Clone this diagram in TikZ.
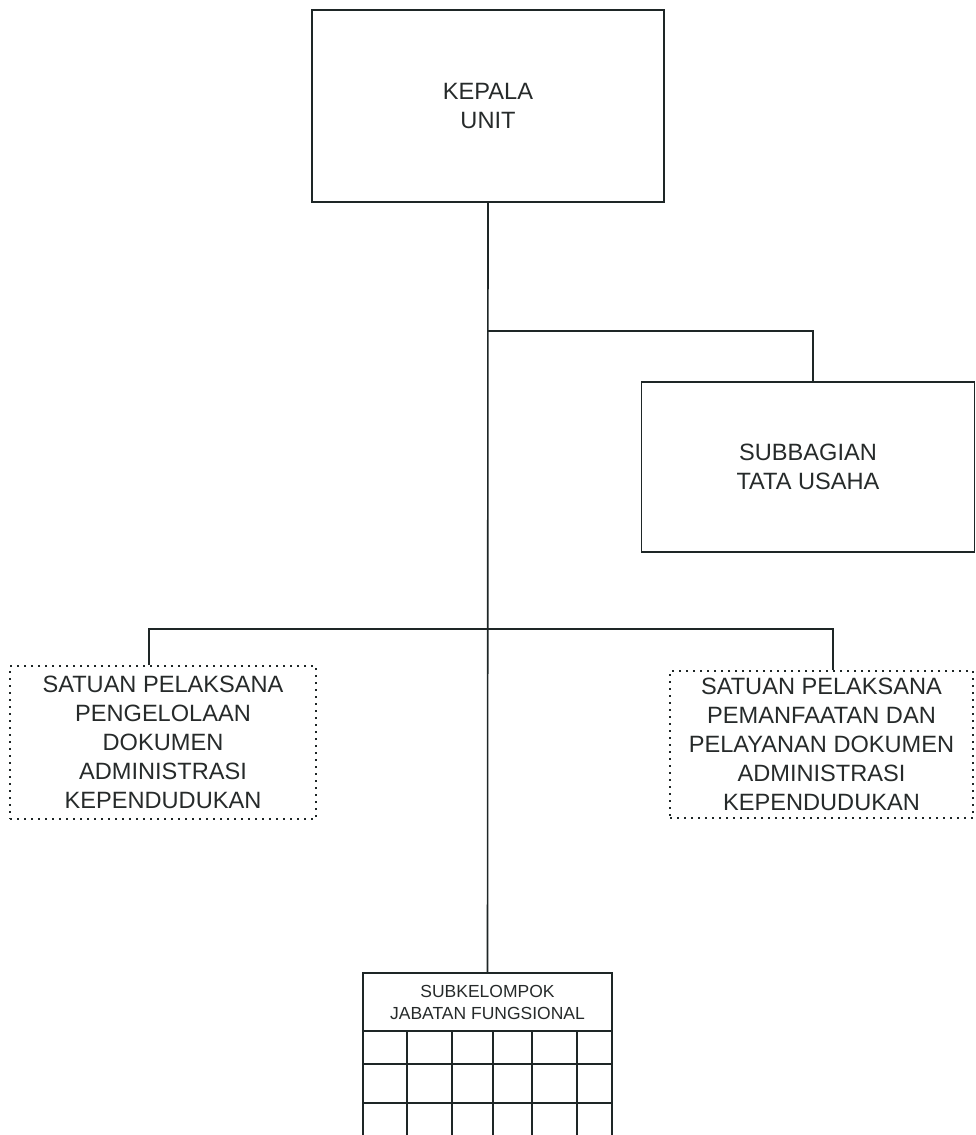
\documentclass[tikz,border=0pt]{standalone}
\usepackage{fontspec}
\setmainfont{Liberation Sans}
\usepackage{tikz}
\usetikzlibrary{positioning}
\definecolor{ink}{HTML}{1E2626}
\definecolor{label}{HTML}{262A2A}

\begin{document}
\begin{tikzpicture}[x=1pt,y=-1pt,
  every node/.style={font=\fontsize{23.6}{29}\selectfont, text=label, align=center, inner sep=0pt},
  unitbox/.style={draw=ink,line width=1.6pt},
  satuanbox/.style={draw=ink,line width=2pt,dash pattern=on 2pt off 5pt},
  link/.style={draw=ink,line width=1.6pt}]
 \useasboundingbox (0,0) rectangle (976,1135);
 \node[unitbox,minimum width=352pt,minimum height=192pt] (kepala) at (488,106) {KEPALA\\UNIT};
 \node[unitbox,minimum width=333pt,minimum height=170pt] (tatausaha) at (808,467) {SUBBAGIAN\\TATA USAHA};
 \node[satuanbox,minimum width=306pt,minimum height=153pt] (pengelolaan) at (163,742.5)
   {SATUAN PELAKSANA\\PENGELOLAAN\\DOKUMEN\\ADMINISTRASI\\KEPENDUDUKAN};
 \node[satuanbox,minimum width=303pt,minimum height=147pt] (pelayanan) at (821.5,744.5)
   {SATUAN PELAKSANA\\PEMANFAATAN DAN\\PELAYANAN DOKUMEN\\ADMINISTRASI\\KEPENDUDUKAN};
 \node[unitbox,minimum width=249pt,minimum height=58pt,font=\fontsize{17.5}{22}\selectfont] (jabfung) at (487.5,1002)
   {SUBKELOMPOK\\JABATAN FUNGSIONAL};
 % junctions on the trunk
 \coordinate (tuJ) at (488,331);
 \coordinate (spJ) at (488,629);
 \draw[link] (kepala.south) -- (jabfung.north);
 \draw[link] (tuJ) -| ([xshift=5pt]tatausaha.north);
 \draw[link] ([xshift=-14pt]pengelolaan.north) |- (spJ) -| ([xshift=11.5pt]pelayanan.north);
 % grid of the functional group
 \begin{scope}
  \clip (0,0) rectangle (976,1135);
  \foreach \gx in {363,407,452,493,532,577,612}
   \draw[link] (\gx,1031) -- (\gx,1140);
  \foreach \gy in {1064,1103,1137}
   \draw[link] (363,\gy) -- (612,\gy);
 \end{scope}
\end{tikzpicture}
\end{document}
